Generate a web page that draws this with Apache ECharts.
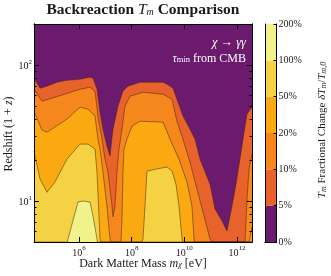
<!DOCTYPE html>
<html><head><meta charset="utf-8">
<script src="https://cdn.jsdelivr.net/npm/echarts@6/dist/echarts.min.js"></script>
<style>html,body{margin:0;padding:0;background:#fff}#c{width:331px;height:276px}</style>
</head><body><div id="c"></div>
<script>
// ---- data ----
const levelLabels = ['0%','5%','10%','20%','50%','100%','200%'];
const levelColors = ['#6b1a6e','#e8632b','#f5871d','#fba911','#f5d244','#f2f28b'];
const xTickExp = [6,8,10,12];
const yMajorTicks = [10,100];
const yMinorTicks = [6,7,8,9,20,30,40,50,60,70,80,90,200];
// boundary (mass [eV], 1+z) below which the fractional change exceeds each level
const contour5 = [[1.95e4,79.8],[3.30e4,67.5],[6.08e4,69.8],[1.46e5,74.7],[3.49e5,77.2],[1.09e6,78.5],[2.61e6,81.3],[3.40e6,79.8],[4.82e6,66.4],[6.27e6,45.0],[8.13e6,33.7],[1.15e7,25.3],[1.50e7,21.4],[1.95e7,33.7],[3.02e7,49.8],[4.68e7,64.2],[7.24e7,69.8],[2.07e8,74.7],[1.55e9,74.7],[2.19e9,72.2],[3.71e9,67.5],[5.74e9,53.2],[8.89e9,42.1],[1.64e10,33.7],[2.54e10,28.5],[3.94e10,20.3],[9.44e10,13.3],[1.46e11,8.73],[2.70e11,7.13],[4.18e11,6.03],[6.48e11,9.19],[9.19e11,13.3],[1.30e12,20.3],[1.69e12,28.5],[2.40e12,43.5],[3.72e12,49.0]];
const contour10 = [[1.95e4,66.4],[3.93e4,54.2],[1.22e5,57.9],[1.09e6,66.4],[2.61e6,68.6],[4.05e6,64.2],[5.26e6,42.1],[7.46e6,28.5],[9.69e6,20.3],[1.26e7,16.3],[1.79e7,9.19],[1.95e7,7.64],[2.32e7,9.19],[2.77e7,16.3],[3.30e7,24.1],[4.28e7,33.7],[5.57e7,49.8],[8.63e7,58.9],[2.69e8,63.1],[1.55e9,61.0],[3.40e9,56.0],[5.26e9,38.6],[8.89e9,28.5],[1.64e10,19.3],[3.03e10,12.2],[5.12e10,8.30],[9.44e10,5.26],[1.12e11,5],[2.02e12,5],[2.40e12,10.35],[2.87e12,17.2],[3.72e12,22.1]];
const contour20 = [[1.95e4,45.7],[3.93e4,33.2],[6.08e4,32.1],[3.49e5,40.0],[1.09e6,49.0],[2.19e6,47.3],[4.05e6,42.1],[5.26e6,28.5],[6.27e6,24.1],[8.13e6,16.3],[1.15e7,9.19],[1.50e7,5.26],[1.64e7,5],[3.93e7,5],[4.28e7,7.38],[4.68e7,16.3],[5.10e7,24.1],[6.64e7,28.5],[1.03e8,35.5],[2.07e8,38.6],[1.55e9,38.0],[2.85e9,28.5],[6.27e9,20.3],[1.26e10,13.8],[1.95e10,9.19],[2.33e10,5.26],[2.50e10,5],[2.87e12,5],[3.72e12,6.44]];
const contour50 = [[1.95e4,23.3],[3.30e4,14.5],[6.08e4,11.6],[1.22e5,13.8],[3.49e5,20.3],[1.09e6,26.2],[2.19e6,26.2],[4.05e6,24.1],[4.82e6,16.3],[6.27e6,5.26],[6.84e6,5],[2.47e8,5],[2.69e8,5.26],[3.21e8,9.19],[3.82e8,16.6],[9.16e8,17.2],[2.19e9,17.8],[3.40e9,16.6],[4.82e9,13.3],[6.27e9,9.19],[8.15e9,5.26],[8.60e9,5],[3.72e12,5]];
const contour100 = [[1.95e4,5],[3.65e5,5],[3.81e5,5.26],[9.14e5,9.84],[1.42e6,10.0],[2.61e6,9.84],[3.40e6,7.76],[4.82e6,5.26],[5.00e6,5],[3.72e12,5]];
const contours = [contour5, contour10, contour20, contour50, contour100];

// ---- chart ----
const F = 'Liberation Serif';
const INK = '#1a1a1a';
const sup = {
  b:{fontSize:10,fontFamily:F,color:INK,lineHeight:13,verticalAlign:'bottom'},
  s:{fontSize:7,fontFamily:F,color:INK,lineHeight:13,verticalAlign:'top'}
};
const powFmt = v => '{b|10}{s|' + Math.round(Math.log10(v)) + '}';
const xTicks = xTickExp.map(e => Math.pow(10, e));
const XMIN = 1.95e4, XMAX = 3.72e12, YMIN = 5, YMAX = 200;
const tickLine = {color:'#000', width:1};
function logX(pos, ticks, len, labels){
  return {type:'log', gridIndex:0, min:XMIN, max:XMAX, position:pos, z:10,
    axisLine:{show:true, lineStyle:{color:'#000', width:1}},
    splitLine:{show:false},
    axisTick:{show:true, inside:true, length:len, customValues:ticks, lineStyle:tickLine},
    axisLabel: labels ? {show:true, customValues:ticks, formatter:powFmt, rich:sup, margin:3} : {show:false}};
}
function logY(pos, ticks, len, labels){
  return {type:'log', gridIndex:0, min:YMIN, max:YMAX, position:pos, z:10,
    axisLine:{show:true, lineStyle:{color:'#000', width:1}},
    splitLine:{show:false},
    axisTick:{show:true, inside:true, length:len, customValues:ticks, lineStyle:tickLine},
    axisLabel: labels ? {show:true, customValues:ticks, formatter:powFmt, rich:sup, margin:2} : {show:false}};
}
const series = contours.map((d, i) => ({
  type:'line', xAxisIndex:0, yAxisIndex:0, data:d, symbol:'none', silent:true,
  z: 2 + i, clip:true,
  lineStyle:{width:0.7, color:'rgba(70,40,15,0.75)'},
  areaStyle:{color:levelColors[i+1], opacity:1, origin:'start'}
}));
levelColors.forEach((c, i) => series.push({
  type:'bar', xAxisIndex:2, yAxisIndex:4, stack:'cb', data:[1], barWidth:'100%',
  silent:true, itemStyle:{color:c}
}));

const chart = echarts.init(document.getElementById('c'), null, {renderer:'canvas'});
chart.setOption({
  animation:false,
  backgroundColor:'#fff',
  grid:[
    {left:34, top:24, width:218, height:218, show:true, backgroundColor:levelColors[0], borderWidth:0},
    {left:265, top:24, width:11.5, height:218, show:false}
  ],
  xAxis:[
    logX('bottom', xTicks, 5, true),
    logX('top', xTicks, 5, false),
    {type:'category', gridIndex:1, data:[''], position:'bottom', z:10, axisLine:{show:true,lineStyle:{color:'#000'}}, axisTick:{show:false}, axisLabel:{show:false}},
    {type:'category', gridIndex:1, data:[''], position:'top', z:10, axisLine:{show:true,lineStyle:{color:'#000'}}, axisTick:{show:false}, axisLabel:{show:false}}
  ],
  yAxis:[
    logY('left', yMajorTicks, 5, true),
    logY('left', yMinorTicks, 2.5, false),
    logY('right', yMajorTicks, 5, false),
    logY('right', yMinorTicks, 2.5, false),
    {type:'value', gridIndex:1, min:0, max:6, interval:1, position:'right', z:10,
      axisLine:{show:true, lineStyle:{color:'#000'}}, splitLine:{show:false},
      axisTick:{show:true, inside:true, length:3, lineStyle:tickLine},
      axisLabel:{margin:2, fontSize:10, fontFamily:F, color:INK, formatter:v => levelLabels[v]}},
    {type:'value', gridIndex:1, min:0, max:6, interval:1, position:'left', z:10,
      axisLine:{show:true, lineStyle:{color:'#000'}}, splitLine:{show:false}, axisTick:{show:false}, axisLabel:{show:false}}
  ],
  series:series,
  graphic:[
    {type:'text', x:143, y:9, z:20, style:{text:'{b|Backreaction }{i|T}{s|m}{b| Comparison}', align:'center', verticalAlign:'middle',
      rich:{b:{fontFamily:F,fontSize:15.5,fontWeight:'bold',fill:INK,lineHeight:17,verticalAlign:'bottom'},
            i:{fontFamily:F,fontSize:15.5,fontStyle:'italic',fill:INK,lineHeight:17,verticalAlign:'bottom'},
            s:{fontFamily:F,fontSize:10,fontStyle:'italic',fill:INK,lineHeight:13,verticalAlign:'bottom'}}}},
    {type:'text', x:246, y:43, z:20, style:{text:'{i|χ} → {i|γγ}', align:'right', verticalAlign:'middle', fill:'#fff',
      rich:{i:{fontFamily:F,fontSize:12.5,fontStyle:'italic',fill:'#fff'}}, fontFamily:F, fontSize:12.5}},
    {type:'text', x:246, y:57, z:20, style:{text:'{i|τ}{s|min}{r| from CMB}', align:'right', verticalAlign:'middle',
      rich:{i:{fontFamily:F,fontSize:12,fontStyle:'italic',fill:'#fff',lineHeight:15,verticalAlign:'bottom'},
            s:{fontFamily:F,fontSize:8.5,fill:'#fff',lineHeight:11,verticalAlign:'bottom'},
            r:{fontFamily:F,fontSize:12,fill:'#fff',lineHeight:15,verticalAlign:'bottom'}}}},
    {type:'text', x:143, y:262, z:20, style:{text:'{r|Dark Matter Mass }{i|m}{s|χ}{r| [eV]}', align:'center', verticalAlign:'middle',
      rich:{r:{fontFamily:F,fontSize:12,fill:INK,lineHeight:15,verticalAlign:'bottom'},
            i:{fontFamily:F,fontSize:12,fontStyle:'italic',fill:INK,lineHeight:15,verticalAlign:'bottom'},
            s:{fontFamily:F,fontSize:8.5,fontStyle:'italic',fill:INK,lineHeight:12,verticalAlign:'bottom'}}}},
    {type:'text', x:9, y:134, rotation:Math.PI/2, z:20, style:{text:'{r|Redshift (1 + }{i|z}{r|)}', align:'center', verticalAlign:'middle',
      rich:{r:{fontFamily:F,fontSize:12,fill:INK},i:{fontFamily:F,fontSize:12,fontStyle:'italic',fill:INK}}}},
    {type:'text', x:321, y:130, rotation:Math.PI/2, z:20, style:{text:'{i|T}{s|m}{r| Fractional Change }{i|δT}{s|m}{r|/}{i|T}{s|m,0}', align:'center', verticalAlign:'middle',
      rich:{r:{fontFamily:F,fontSize:11,fill:INK,lineHeight:14,verticalAlign:'bottom'},
            i:{fontFamily:F,fontSize:11,fontStyle:'italic',fill:INK,lineHeight:14,verticalAlign:'bottom'},
            s:{fontFamily:F,fontSize:8,fontStyle:'italic',fill:INK,lineHeight:11,verticalAlign:'bottom'}}}}
  ]
});
</script></body></html>
